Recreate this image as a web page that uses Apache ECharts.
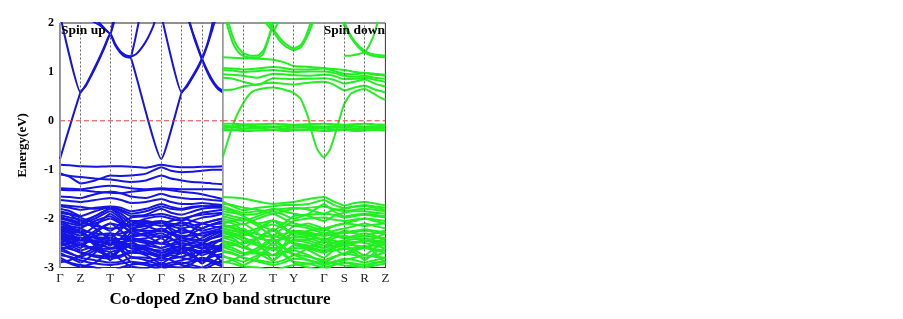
<!DOCTYPE html>
<html>
<head>
<meta charset="utf-8">
<script src="https://cdn.jsdelivr.net/npm/echarts@6/dist/echarts.min.js"></script>
<style>
  html, body { margin: 0; padding: 0; background: #fff; }
  #chart { width: 903px; height: 319px; }
</style>
</head>
<body>
<div id="chart"></div>
<script>
// high symmetry points along the path (same spacing in both panels)
const kPoints = [0, 20.5, 50.3, 71, 101.3, 121.7, 142, 162.7];
const upLabels = ['Γ', 'Z', 'T', 'Y', 'Γ', 'S', 'R', 'Z(Γ)'];
const downLabels = ['', 'Z', 'T', 'Y', 'Γ', 'S', 'R', 'Z'];
const fermiLevel = 0;
// k positions used by the flat / valence bands
const kGrid = [0, 10, 20.5, 35, 50.3, 61, 71, 86, 101.3, 111, 121.7, 132, 142, 152, 162.7];

// spin up conduction bands, [k, E] pairs
const upConduction = [
    [[0, -0.78], [20.5, 0.58], [26, 0.72], [32, 0.95], [38, 1.2], [44, 1.47], [50.3, 1.76], [55, 1.55], [60, 1.4], [65, 1.31], [71, 1.28], [101.3, -0.78], [121.7, 0.58], [127, 0.7], [133, 0.9], [138, 1.08], [142, 1.25], [147, 1.52], [152, 1.84], [155, 2.05]],
    [[0, 2.17], [20.5, 0.58], [26, 0.74], [32, 0.98], [38, 1.23], [44, 1.5], [50.3, 1.79], [55, 1.58], [60, 1.43], [65, 1.35], [71, 1.32], [76, 1.36], [82, 1.5], [88, 1.7], [93, 1.92], [95, 2.05]],
    [[96, 2.55], [101.3, 2.15], [121.7, 0.58], [127, 0.73], [133, 0.93], [138, 1.11], [142, 1.28], [147, 1.55], [151, 1.85], [153, 2.05]],
    [[126, 2.3], [130, 2.0], [134, 1.7], [138, 1.47], [142, 1.25], [146, 1.05], [150, 0.88], [154, 0.75], [158, 0.65], [162.7, 0.58]],
    [[124, 2.35], [131, 1.9], [136, 1.62], [142, 1.27], [148, 1.0], [154, 0.78], [158, 0.68], [162.7, 0.61]],
    [[71, 1.3], [75, 1.65], [79, 2.05]],
    [[29.7, 2.07], [40, 1.95], [50.3, 1.78], [53, 2.07]],
    [[36.3, 2.07], [45, 1.88], [50.3, 1.78], [55, 2.1]]
];

// spin up valence bands, one value per kGrid point
const upValence = [
    [-0.90, -0.91, -0.93, -0.94, -0.93, -0.93, -0.94, -0.96, -0.90, -0.93, -0.95, -0.95, -0.94, -0.94, -0.93],
    [-1.07, -1.15, -1.28, -1.22, -1.12, -1.13, -1.12, -1.08, -0.95, -1.02, -1.05, -1.04, -1.02, -1.00, -1.00],
    [-1.10, -1.13, -1.15, -1.18, -1.20, -1.23, -1.25, -1.22, -1.12, -1.18, -1.22, -1.25, -1.26, -1.28, -1.30],
    [-1.38, -1.39, -1.40, -1.36, -1.33, -1.35, -1.38, -1.40, -1.38, -1.39, -1.40, -1.40, -1.40, -1.40, -1.41],
    [-1.41, -1.42, -1.42, -1.45, -1.47, -1.48, -1.45, -1.42, -1.40, -1.42, -1.45, -1.47, -1.50, -1.55, -1.60],
    [-1.55, -1.56, -1.58, -1.50, -1.45, -1.48, -1.55, -1.58, -1.49, -1.55, -1.58, -1.60, -1.60, -1.62, -1.64],
    [-1.62, -1.64, -1.66, -1.62, -1.58, -1.62, -1.68, -1.66, -1.60, -1.66, -1.70, -1.70, -1.68, -1.70, -1.72],
    [-1.72, -1.74, -1.76, -1.80, -1.76, -1.82, -1.90, -1.85, -1.75, -1.80, -1.82, -1.78, -1.75, -1.74, -1.74],
    [-1.80, -1.85, -1.95, -1.85, -1.77, -1.85, -1.95, -1.92, -1.80, -1.88, -1.92, -1.86, -1.80, -1.78, -1.77],
    [-1.88, -1.92, -2.05, -1.95, -1.80, -1.95, -2.10, -2.00, -1.95, -2.00, -2.05, -1.95, -1.88, -1.85, -1.82],
    [-1.95, -2.05, -2.12, -2.00, -1.85, -2.00, -2.20, -2.10, -2.05, -2.10, -2.15, -2.05, -1.98, -1.95, -1.90],
    [-2.05, -2.15, -2.20, -2.35, -2.55, -2.40, -2.22, -2.15, -2.06, -2.20, -2.30, -2.25, -2.10, -2.05, -2.00],
    [-2.15, -2.20, -2.25, -2.50, -2.80, -2.55, -2.28, -2.20, -2.06, -2.25, -2.40, -2.30, -2.20, -2.12, -2.10],
    [-2.20, -2.25, -2.30, -2.55, -2.85, -2.60, -2.35, -2.30, -2.20, -2.30, -2.45, -2.40, -2.30, -2.25, -2.20],
    [-2.25, -2.30, -2.20, -2.05, -1.95, -2.10, -2.30, -2.35, -2.30, -2.40, -2.55, -2.50, -2.40, -2.30, -2.25],
    [-2.30, -2.35, -2.40, -2.38, -2.40, -2.42, -2.40, -2.45, -2.51, -2.45, -2.40, -2.45, -2.50, -2.40, -2.30],
    [-2.35, -2.40, -2.45, -2.48, -2.50, -2.48, -2.45, -2.50, -2.51, -2.55, -2.60, -2.65, -2.70, -2.55, -2.40],
    [-2.40, -2.45, -2.55, -2.60, -2.62, -2.58, -2.50, -2.60, -2.70, -2.62, -2.55, -2.70, -2.90, -2.70, -2.50],
    [-2.45, -2.50, -2.60, -2.30, -2.10, -2.25, -2.45, -2.65, -2.80, -2.70, -2.65, -2.75, -2.92, -2.75, -2.55],
    [-2.50, -2.60, -2.70, -2.75, -2.78, -2.75, -2.65, -2.75, -2.92, -2.80, -2.70, -2.60, -2.50, -2.55, -2.60],
    [-2.60, -2.70, -2.80, -2.85, -2.90, -2.88, -2.80, -2.85, -2.95, -2.90, -2.85, -2.80, -2.70, -2.68, -2.65],
    [-2.70, -2.80, -2.90, -2.70, -2.40, -2.65, -2.90, -2.95, -3.05, -2.95, -2.90, -2.95, -3.00, -2.90, -2.75],
    [-2.80, -2.90, -2.95, -3.00, -3.10, -3.00, -2.95, -2.90, -2.80, -2.85, -2.95, -3.00, -3.05, -2.95, -2.85],
    [-2.90, -2.85, -2.75, -2.60, -2.45, -2.55, -2.70, -2.55, -2.40, -2.55, -2.70, -2.60, -2.55, -2.70, -2.90],
    [-2.20, -2.30, -2.45, -2.25, -2.10, -2.15, -2.25, -2.35, -2.51, -2.35, -2.20, -2.30, -2.45, -2.35, -2.25],
    [-2.05, -2.10, -2.15, -2.10, -2.00, -2.10, -2.15, -2.10, -2.06, -2.15, -2.20, -2.15, -2.10, -2.15, -2.20],
    [-2.55, -2.50, -2.40, -2.50, -2.60, -2.55, -2.60, -2.70, -2.80, -2.75, -2.80, -2.85, -2.80, -2.85, -2.95],
    [-1.75, -1.78, -1.82, -1.78, -1.75, -1.78, -1.85, -1.80, -1.70, -1.76, -1.80, -1.76, -1.74, -1.76, -1.78],
    [-1.85, -1.90, -1.98, -2.10, -2.25, -2.10, -1.98, -1.95, -1.90, -1.95, -2.00, -1.95, -1.92, -1.90, -1.88],
    [-1.92, -1.98, -2.02, -2.20, -2.40, -2.22, -2.05, -2.05, -2.10, -2.05, -2.00, -2.05, -2.10, -2.05, -2.00],
    [-2.00, -2.05, -2.10, -1.95, -1.80, -1.90, -2.05, -2.15, -2.25, -2.15, -2.08, -2.12, -2.20, -2.12, -2.05],
    [-2.10, -2.18, -2.25, -2.30, -2.35, -2.30, -2.25, -2.25, -2.25, -2.30, -2.35, -2.35, -2.30, -2.28, -2.25],
    [-2.18, -2.22, -2.28, -2.40, -2.45, -2.42, -2.38, -2.32, -2.25, -2.32, -2.38, -2.42, -2.45, -2.40, -2.35],
    [-2.28, -2.35, -2.40, -2.45, -2.52, -2.50, -2.45, -2.40, -2.35, -2.42, -2.50, -2.55, -2.60, -2.50, -2.45],
    [-2.38, -2.42, -2.50, -2.65, -2.75, -2.65, -2.55, -2.55, -2.60, -2.55, -2.50, -2.55, -2.62, -2.58, -2.55],
    [-2.48, -2.55, -2.65, -2.55, -2.30, -2.50, -2.60, -2.62, -2.65, -2.60, -2.58, -2.62, -2.68, -2.62, -2.60],
    [-2.58, -2.62, -2.68, -2.78, -2.82, -2.78, -2.70, -2.72, -2.75, -2.72, -2.70, -2.78, -2.85, -2.78, -2.72],
    [-2.65, -2.72, -2.78, -2.65, -2.50, -2.62, -2.78, -2.80, -2.85, -2.82, -2.78, -2.72, -2.65, -2.72, -2.80],
    [-2.75, -2.78, -2.85, -2.92, -2.95, -2.92, -2.88, -2.92, -2.98, -2.95, -2.92, -2.88, -2.85, -2.88, -2.90],
    [-2.85, -2.92, -2.98, -2.90, -2.70, -2.85, -2.98, -3.02, -2.90, -2.98, -3.00, -2.92, -2.80, -2.90, -2.98],
    [-2.22, -2.28, -2.35, -2.15, -1.90, -2.05, -2.20, -2.28, -2.40, -2.30, -2.25, -2.28, -2.35, -2.30, -2.28],
    [-2.32, -2.38, -2.42, -2.35, -2.30, -2.35, -2.40, -2.48, -2.60, -2.52, -2.45, -2.50, -2.55, -2.48, -2.42],
    [-2.42, -2.48, -2.55, -2.60, -2.68, -2.62, -2.55, -2.58, -2.70, -2.65, -2.62, -2.65, -2.75, -2.68, -2.62],
    [-1.98, -2.02, -2.08, -2.15, -2.20, -2.18, -2.12, -2.08, -2.15, -2.12, -2.10, -2.18, -2.25, -2.20, -2.15],
    [-2.62, -2.58, -2.52, -2.45, -2.40, -2.48, -2.55, -2.65, -2.75, -2.68, -2.62, -2.58, -2.52, -2.58, -2.65]
];

// spin down conduction bands, [k, E] pairs
const downConduction = [
    [[0, -0.75], [5, -0.42], [10, -0.1], [15, 0.15], [20.5, 0.36], [25, 0.5], [30, 0.6], [40, 0.66], [50.3, 0.68], [61, 0.64], [71, 0.57], [78, 0.45], [85, 0.1], [90, -0.3], [95, -0.6], [101.3, -0.75], [107, -0.6], [112, -0.3], [117, 0.05], [121.7, 0.35], [128, 0.55], [135, 0.62], [142, 0.65], [150, 0.57], [157, 0.48], [162.7, 0.43]],
    [[2, 2.15], [6, 1.85], [10, 1.6], [14, 1.45], [18, 1.36], [25, 1.3], [35, 1.29], [40, 1.35], [44, 1.55], [48, 1.82], [51, 2.1]],
    [[4, 2.15], [8, 1.85], [12, 1.62], [16, 1.48], [21, 1.38], [28, 1.33], [36, 1.34], [41, 1.45], [45, 1.65], [49, 1.9], [52, 2.1]],
    [[44, 2.1], [50.3, 1.84], [56, 1.66], [63, 1.52], [71, 1.44], [78, 1.5], [84, 1.7], [89, 1.95], [91, 2.1]],
    [[46, 2.1], [50.3, 1.9], [56, 1.72], [63, 1.57], [71, 1.48], [78, 1.55], [83, 1.72], [88, 2.0], [90, 2.1]],
    [[38, 2.1], [44, 1.98], [50.3, 1.84], [54, 1.95], [57, 2.1]],
    [[118, 2.1], [124, 1.85], [130, 1.65], [136, 1.5], [142, 1.4], [148, 1.34], [155, 1.31], [162.7, 1.3]],
    [[121.7, 1.33], [128, 1.33], [135, 1.36], [142, 1.4], [147, 1.56], [152, 1.8], [156, 2.1]],
    [[120, 2.1], [126, 1.82], [133, 1.6], [142, 1.43], [150, 1.36], [162.7, 1.33]]
];

// spin down flat bands above and just below the Fermi level
const downFlat = [
    [1.30, 1.29, 1.28, 1.27, 1.25, 1.20, 1.12, 1.10, 1.08, 1.06, 1.04, 1.00, 0.98, 0.96, 0.94],
    [1.08, 1.07, 1.05, 1.07, 1.10, 1.08, 1.05, 1.05, 1.07, 1.02, 0.96, 0.95, 0.97, 0.94, 0.92],
    [1.04, 1.03, 1.00, 1.02, 1.04, 1.02, 1.00, 1.01, 1.01, 0.98, 0.92, 0.90, 0.92, 0.88, 0.86],
    [0.95, 0.94, 0.92, 0.88, 0.96, 0.95, 0.93, 0.92, 0.94, 0.92, 0.85, 0.86, 0.88, 0.84, 0.80],
    [0.88, 0.86, 0.80, 0.73, 0.87, 0.86, 0.85, 0.86, 0.87, 0.84, 0.76, 0.80, 0.85, 0.76, 0.70],
    [0.63, 0.64, 0.70, 0.75, 0.78, 0.76, 0.74, 0.78, 0.80, 0.74, 0.62, 0.68, 0.72, 0.64, 0.58],
    [-0.06, -0.06, -0.07, -0.07, -0.06, -0.07, -0.08, -0.07, -0.06, -0.07, -0.08, -0.07, -0.06, -0.07, -0.08],
    [-0.10, -0.11, -0.10, -0.11, -0.12, -0.11, -0.10, -0.11, -0.12, -0.11, -0.10, -0.11, -0.12, -0.11, -0.10],
    [-0.14, -0.13, -0.15, -0.14, -0.13, -0.15, -0.14, -0.13, -0.15, -0.14, -0.13, -0.15, -0.14, -0.13, -0.14],
    [-0.17, -0.18, -0.17, -0.16, -0.18, -0.17, -0.18, -0.17, -0.16, -0.18, -0.17, -0.18, -0.17, -0.16, -0.17],
    [-0.20, -0.19, -0.21, -0.20, -0.19, -0.21, -0.20, -0.19, -0.21, -0.20, -0.19, -0.21, -0.20, -0.19, -0.20]
];

// spin down valence bands
const downValence = [
    [-1.56, -1.57, -1.59, -1.65, -1.70, -1.68, -1.66, -1.60, -1.56, -1.65, -1.73, -1.68, -1.66, -1.69, -1.73],
    [-1.65, -1.75, -1.83, -1.78, -1.75, -1.72, -1.72, -1.70, -1.62, -1.72, -1.78, -1.75, -1.72, -1.75, -1.78],
    [-1.75, -1.82, -1.88, -1.85, -1.82, -1.80, -1.78, -1.82, -1.90, -1.82, -1.80, -1.76, -1.74, -1.78, -1.82],
    [-1.85, -1.88, -1.92, -1.90, -1.80, -1.85, -1.90, -1.95, -2.05, -1.95, -1.88, -1.85, -1.85, -1.88, -1.90],
    [-1.95, -2.00, -2.05, -1.95, -1.85, -1.92, -2.00, -1.90, -1.70, -1.85, -1.95, -1.92, -1.90, -1.92, -1.95],
    [-2.10, -2.05, -2.00, -2.10, -2.04, -2.10, -2.15, -2.10, -2.20, -2.15, -2.10, -2.05, -2.00, -2.05, -2.10],
    [-2.15, -2.15, -2.10, -2.30, -2.55, -2.35, -2.15, -2.20, -2.30, -2.25, -2.20, -2.15, -2.10, -2.15, -2.20],
    [-2.20, -2.25, -2.20, -2.45, -2.86, -2.55, -2.25, -2.30, -2.45, -2.35, -2.25, -2.30, -2.35, -2.30, -2.25],
    [-2.25, -2.30, -2.35, -2.25, -2.04, -2.20, -2.35, -2.40, -2.50, -2.40, -2.35, -2.40, -2.45, -2.40, -2.30],
    [-2.30, -2.35, -2.45, -2.55, -2.60, -2.55, -2.45, -2.50, -2.60, -2.50, -2.45, -2.55, -2.60, -2.50, -2.40],
    [-2.35, -2.40, -2.55, -2.70, -2.86, -2.70, -2.55, -2.60, -2.70, -2.60, -2.55, -2.65, -2.75, -2.60, -2.50],
    [-2.45, -2.50, -2.60, -2.40, -2.20, -2.35, -2.50, -2.65, -2.80, -2.65, -2.60, -2.70, -2.85, -2.70, -2.60],
    [-2.55, -2.60, -2.70, -2.72, -2.75, -2.70, -2.65, -2.75, -2.90, -2.80, -2.70, -2.65, -2.60, -2.65, -2.70],
    [-2.65, -2.70, -2.80, -2.85, -2.90, -2.85, -2.75, -2.85, -2.95, -2.90, -2.85, -2.80, -2.75, -2.78, -2.80],
    [-2.75, -2.85, -2.95, -2.80, -2.50, -2.70, -2.90, -3.00, -3.05, -2.95, -2.90, -2.95, -3.00, -2.92, -2.85],
    [-2.90, -2.85, -2.75, -2.65, -2.45, -2.60, -2.75, -2.60, -2.45, -2.60, -2.75, -2.65, -2.55, -2.70, -2.90],
    [-2.40, -2.35, -2.30, -2.20, -2.12, -2.20, -2.30, -2.25, -2.20, -2.30, -2.40, -2.35, -2.30, -2.35, -2.45],
    [-2.05, -2.10, -2.25, -2.40, -2.45, -2.40, -2.30, -2.35, -2.45, -2.50, -2.55, -2.50, -2.45, -2.50, -2.55],
    [-1.70, -1.72, -1.78, -1.82, -1.90, -1.85, -1.80, -1.78, -1.75, -1.80, -1.85, -1.82, -1.80, -1.82, -1.85],
    [-1.80, -1.85, -1.95, -2.10, -2.25, -2.10, -1.95, -1.92, -1.90, -1.92, -1.98, -1.95, -1.92, -1.95, -1.98],
    [-1.90, -1.95, -2.00, -2.15, -2.35, -2.18, -2.05, -2.00, -1.98, -2.02, -2.05, -2.02, -2.00, -2.02, -2.05],
    [-2.00, -2.05, -2.12, -2.00, -1.90, -2.00, -2.10, -2.15, -2.25, -2.15, -2.10, -2.12, -2.15, -2.12, -2.10],
    [-2.12, -2.18, -2.25, -2.32, -2.38, -2.32, -2.25, -2.28, -2.35, -2.30, -2.28, -2.25, -2.22, -2.25, -2.28],
    [-2.20, -2.25, -2.30, -2.40, -2.45, -2.42, -2.38, -2.35, -2.30, -2.35, -2.40, -2.38, -2.35, -2.38, -2.40],
    [-2.28, -2.32, -2.40, -2.50, -2.65, -2.55, -2.45, -2.42, -2.40, -2.45, -2.50, -2.48, -2.45, -2.48, -2.50],
    [-2.38, -2.45, -2.52, -2.40, -2.25, -2.38, -2.52, -2.58, -2.65, -2.58, -2.52, -2.55, -2.58, -2.55, -2.52],
    [-2.48, -2.52, -2.60, -2.68, -2.75, -2.68, -2.60, -2.62, -2.68, -2.65, -2.62, -2.60, -2.58, -2.62, -2.65],
    [-2.58, -2.65, -2.72, -2.60, -2.40, -2.58, -2.72, -2.78, -2.85, -2.78, -2.72, -2.75, -2.80, -2.75, -2.70],
    [-2.68, -2.72, -2.80, -2.88, -2.95, -2.90, -2.82, -2.85, -2.92, -2.88, -2.82, -2.85, -2.90, -2.85, -2.80],
    [-2.78, -2.82, -2.88, -2.75, -2.60, -2.75, -2.88, -2.92, -3.00, -2.95, -2.90, -2.92, -2.95, -2.90, -2.88],
    [-2.88, -2.92, -2.98, -3.00, -3.05, -3.00, -2.95, -2.92, -2.88, -2.92, -2.96, -2.98, -3.00, -2.96, -2.92],
    [-2.15, -2.20, -2.28, -2.20, -2.04, -2.18, -2.30, -2.32, -2.35, -2.32, -2.30, -2.28, -2.25, -2.28, -2.32],
    [-2.25, -2.30, -2.38, -2.55, -2.75, -2.58, -2.42, -2.45, -2.55, -2.50, -2.45, -2.42, -2.40, -2.45, -2.48],
    [-2.52, -2.55, -2.48, -2.40, -2.35, -2.42, -2.50, -2.55, -2.60, -2.55, -2.50, -2.48, -2.50, -2.55, -2.60]
];

const upColor = '#1414e6';
const downColor = '#22ee22';
const serif = '"Times New Roman", "Liberation Serif", serif';

function bandSeries(data, panel, color) {
    return {
        type: 'line',
        xAxisIndex: panel,
        yAxisIndex: panel,
        data: data,
        showSymbol: false,
        silent: true,
        clip: true,
        smooth: 0.15,
        lineStyle: { color: color, width: 2 }
    };
}

function onGrid(values) {
    return kGrid.map((k, i) => [k, values[i]]);
}

// dotted symmetry lines
function symmetrySeries(panel) {
    return {
        type: 'line',
        xAxisIndex: panel,
        yAxisIndex: panel,
        data: [],
        silent: true,
        markLine: {
            symbol: 'none',
            label: { show: false },
            animation: false,
            lineStyle: { color: '#666', type: [2, 2], width: 1 },
            data: kPoints.slice(1, 7).map(k => ({ xAxis: k }))
        }
    };
}

// red dashed Fermi level, drawn over the bands
function fermiSeries(panel) {
    return {
        type: 'line',
        xAxisIndex: panel,
        yAxisIndex: panel,
        z: 4,
        data: [[kPoints[0], fermiLevel], [kPoints[7], fermiLevel]],
        showSymbol: false,
        silent: true,
        itemStyle: { color: '#e8383d' },
        lineStyle: { color: '#e8383d', type: [5, 3], width: 1 }
    };
}

function xAxisFor(panel, labels) {
    const values = panel === 0 ? kPoints : kPoints.slice(1);
    return {
        type: 'value',
        gridIndex: panel,
        min: 0,
        max: 162.7,
        splitLine: { show: false },
        axisTick: { show: false },
        axisLine: { show: true, onZero: false, lineStyle: { color: '#333', width: 1 } },
        axisLabel: {
            customValues: values,
            showMinLabel: true,
            showMaxLabel: true,
            margin: 5,
            color: '#222',
            fontSize: 13,
            fontFamily: serif,
            formatter: v => labels[kPoints.findIndex(k => Math.abs(k - v) < 0.01)]
        }
    };
}

const series = [symmetrySeries(0), symmetrySeries(1)];
upValence.forEach(b => series.push(bandSeries(onGrid(b), 0, upColor)));
upConduction.forEach(b => series.push(bandSeries(b, 0, upColor)));
downValence.forEach(b => series.push(bandSeries(onGrid(b), 1, downColor)));
downFlat.forEach(b => series.push(bandSeries(onGrid(b), 1, downColor)));
downConduction.forEach(b => series.push(bandSeries(b, 1, downColor)));
series.push(fermiSeries(0), fermiSeries(1));

const chart = echarts.init(document.getElementById('chart'));
chart.setOption({
    animation: false,
    grid: [
        { left: 60, top: 23, width: 162.7, height: 244.5, show: true, borderColor: '#222', borderWidth: 1 },
        { left: 222.7, top: 23, width: 162.7, height: 244.5, show: true, borderColor: '#333', borderWidth: 1 }
    ],
    xAxis: [xAxisFor(0, upLabels), xAxisFor(1, downLabels)],
    yAxis: [
        {
            type: 'value', gridIndex: 0, min: -3, max: 2, interval: 1, z: 5,
            splitLine: { show: false },
            axisTick: { show: false },
            axisLine: { show: true, onZero: false, lineStyle: { color: '#999', width: 1 } },
            axisLabel: { margin: 6, color: '#000', fontSize: 12, fontWeight: 'bold', fontFamily: serif },
            name: 'Energy(eV)',
            nameLocation: 'middle',
            nameGap: 31,
            nameTextStyle: { fontSize: 13, fontWeight: 'bold', fontFamily: serif, color: '#000' }
        },
        {
            type: 'value', gridIndex: 1, min: -3, max: 2, interval: 1, z: 5,
            splitLine: { show: false },
            axisTick: { show: false },
            axisLabel: { show: false },
            axisLine: { show: true, onZero: false, lineStyle: { color: '#999', width: 1 } }
        }
    ],
    graphic: [
        { type: 'text', left: 61, top: 24, z: 10, style: { text: 'Spin up', font: 'bold 13.5px ' + serif, fill: '#000' } },
        { type: 'text', right: 903 - 385, top: 24, z: 10, style: { text: 'Spin down', font: 'bold 13.5px ' + serif, fill: '#000' } },
        { type: 'text', x: 220, y: 300, style: { text: 'Co-doped ZnO band structure', font: 'bold 17px ' + serif, fill: '#000', textAlign: 'center', textVerticalAlign: 'middle' } }
    ],
    series: series
});
</script>
</body>
</html>
